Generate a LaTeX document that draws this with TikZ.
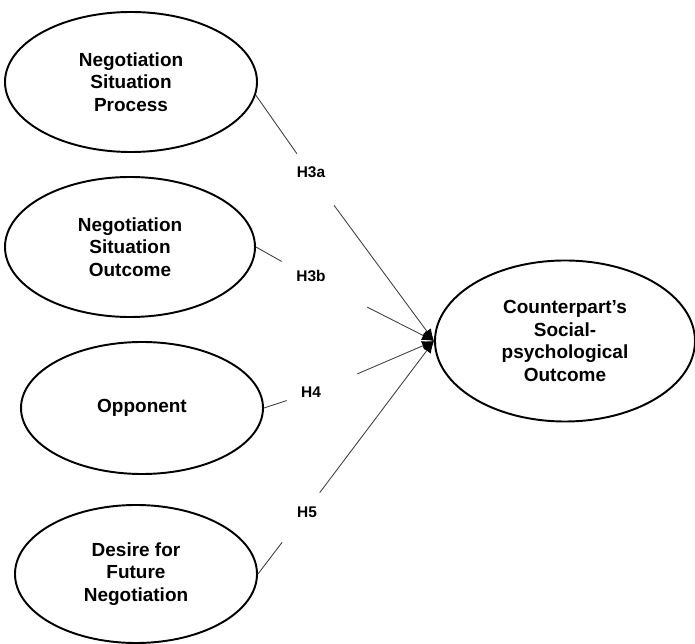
\documentclass[tikz,border=0pt]{standalone}
\usepackage{fontspec}
\setmainfont{Liberation Sans}
\usetikzlibrary{arrows.meta, shapes.geometric}

\begin{document}
\begin{tikzpicture}[
    oval/.style={
        draw=black,
        line width=1.1pt,
        ellipse,
        align=center,
        font=\bfseries\fontsize{10.8}{12.8}\selectfont
    },
    hyp/.style={
        minimum width=1.6cm,
        minimum height=1cm,
        inner sep=0pt
    },
    hyptext/.style={
        inner sep=0pt,
        font=\bfseries\fontsize{8.8}{10}\selectfont
    },
    arrow/.style={
        -{Latex[black,length=2.4mm,width=2mm]},
        draw=black!75,
        line width=0.5pt
    }
]

\useasboundingbox (0,0) rectangle (13.9,-12.88);

% Nodes (four predictors on the left, outcome on the right)
\node[oval, minimum width=5.04cm, minimum height=2.8cm] (process) at (2.62,-1.64) {Negotiation\\Situation\\Process};
\node[oval, minimum width=5cm, minimum height=2.8cm] (sitout) at (2.6,-4.94) {Negotiation\\Situation\\Outcome};
\node[oval, minimum width=4.84cm, minimum height=2.64cm] (opponent) at (2.84,-8.16) {Opponent};
\node[oval, minimum width=4.84cm, minimum height=2.76cm] (desire) at (2.72,-11.48) {Desire for\\Future\\Negotiation};
\node[oval, minimum width=5.2cm, minimum height=3.22cm] (outcome) at (11.3,-6.82) {Counterpart’s\\Social-\\psychological\\Outcome};

% Hypothesis labels (text boxes that break the lines)
\node[hyp, minimum height=1.02cm, label={[hyptext, xshift=-0.08cm, yshift=0.15cm]center:H3a}] (h3a) at (6.30,-3.59) {};
\node[hyp, minimum width=1.7cm, label={[hyptext, xshift=-0.27cm, yshift=0.19cm]center:H3b}] (h3b) at (6.49,-5.71) {};
\node[hyp, minimum width=1.4cm, label={[hyptext, xshift=-0.22cm, yshift=-0.06cm]center:H4}] (h4) at (6.44,-7.78) {};
\node[hyp, minimum height=0.98cm, label={[hyptext, xshift=0.12cm, yshift=0.11cm]center:H5}] (h5) at (6.02,-10.35) {};

% Paths into the outcome
\draw[arrow] (process.-6) -- (h3a) -- (outcome.west);
\draw[arrow] (sitout.east) -- (h3b) -- (outcome.west);
\draw[arrow] (opponent.east) -- (h4) -- (outcome.west);
\draw[arrow] (desire.east) -- (h5) -- (outcome.west);

\end{tikzpicture}
\end{document}
